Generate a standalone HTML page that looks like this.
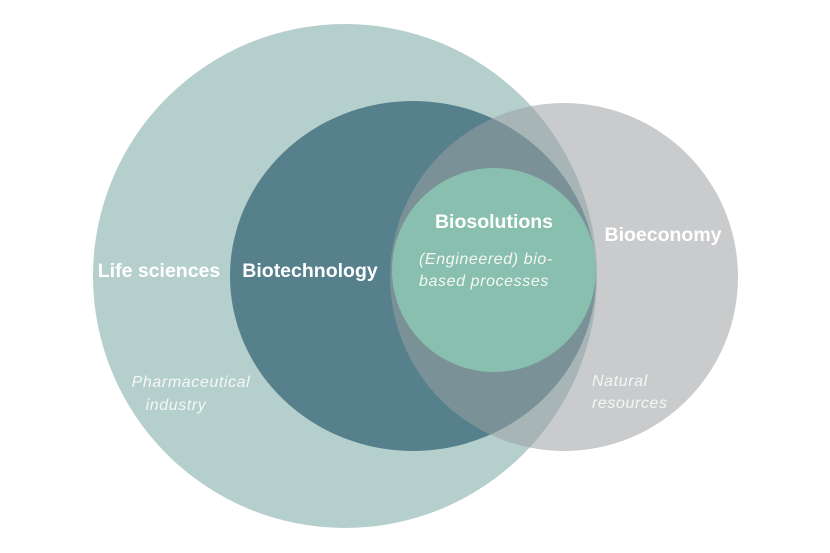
<!DOCTYPE html>
<html><head><meta charset="utf-8"><style>
html,body{margin:0;padding:0;background:#fff;}
svg{display:block;}
text{font-family:"Liberation Sans",sans-serif;fill:#fff;}
.b{font-weight:bold;font-size:19.5px;}
.i{font-style:italic;font-size:16px;letter-spacing:0.6px;fill:#f4f7f6;}
</style></head><body>
<svg width="830" height="553" viewBox="0 0 830 553" xmlns="http://www.w3.org/2000/svg">
<rect width="830" height="553" fill="#fff"/>
<circle cx="345" cy="276" r="252" fill="#b5d0cc"/>
<ellipse cx="413" cy="276" rx="183" ry="175" fill="#55808c"/>
<circle cx="564" cy="277" r="174" fill="#9b9fa3" fill-opacity="0.54"/>
<circle cx="494" cy="270" r="102" fill="#88bfae"/>
<text class="b" x="159" y="277" text-anchor="middle">Life sciences</text>
<text class="b" x="310" y="277" text-anchor="middle">Biotechnology</text>
<text class="b" x="494" y="228" text-anchor="middle">Biosolutions</text>
<text class="b" x="663" y="241" text-anchor="middle">Bioeconomy</text>
<text class="i" x="419" y="264">(Engineered) bio-</text>
<text class="i" x="419" y="286">based processes</text>
<text class="i" x="191" y="387" text-anchor="middle">Pharmaceutical</text>
<text class="i" x="176" y="410" text-anchor="middle">industry</text>
<text class="i" x="592" y="386">Natural</text>
<text class="i" x="592" y="408">resources</text>
</svg>
</body></html>
